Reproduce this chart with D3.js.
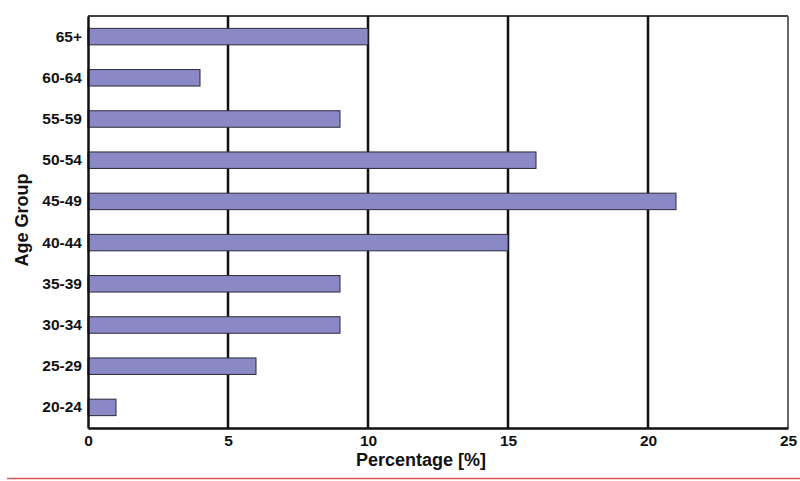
<!DOCTYPE html>
<html><head><meta charset="utf-8">
<script src="https://cdn.jsdelivr.net/npm/d3@7"></script>
<style>body{margin:0;background:#fff}svg{display:block}text{font-family:"Liberation Sans",Arial,Helvetica,sans-serif;font-weight:bold;fill:#111}</style>
</head><body><div id="chart"></div>
<script>
const categories = ["65+","60-64","55-59","50-54","45-49","40-44","35-39","30-34","25-29","20-24"];
const values = [10,4,9,16,21,15,9,9,6,1];
const xTicks = [0,5,10,15,20,25];
const xTitle = "Percentage [%]";
const yTitle = "Age Group";

const W=800,H=481;
const m={left:88,right:12,top:16,bottom:53};
const svg=d3.select("#chart").append("svg").attr("width",W).attr("height",H);
const x=d3.scaleLinear().domain([0,25]).range([m.left,W-m.right]);
const y=d3.scaleBand().domain(categories).range([m.top,H-m.bottom]).paddingInner(0.6).paddingOuter(0.3);

// frame top/right
svg.append("line").attr("x1",x(0)).attr("x2",x(25)).attr("y1",m.top).attr("y2",m.top).attr("stroke","#444").attr("stroke-width",2);
svg.append("line").attr("x1",x(25)).attr("x2",x(25)).attr("y1",m.top).attr("y2",H-m.bottom).attr("stroke","#666").attr("stroke-width",2);
// gridlines
svg.append("g").selectAll("line").data(xTicks.filter(d=>d>0&&d<25)).join("line")
 .attr("x1",d=>x(d)).attr("x2",d=>x(d)).attr("y1",m.top).attr("y2",H-m.bottom)
 .attr("stroke","#111").attr("stroke-width",2.5);
// bars
svg.append("g").selectAll("rect").data(categories).join("rect")
 .attr("x",x(0)).attr("y",d=>y(d)).attr("height",y.bandwidth())
 .attr("width",(d,i)=>x(values[i])-x(0))
 .attr("fill","#8b88c6").attr("stroke","#2a2a3a").attr("stroke-width",1);
// axes
const xa=svg.append("g").attr("transform",`translate(0,${H-m.bottom})`)
 .call(d3.axisBottom(x).tickValues(xTicks).tickSize(0).tickPadding(7));
xa.select(".domain").attr("stroke","#111").attr("stroke-width",2.5);
xa.selectAll("text").attr("font-size",15.5).attr("fill","#111");
const ya=svg.append("g").attr("transform",`translate(${m.left},0)`)
 .call(d3.axisLeft(y).tickSize(0).tickPadding(6));
ya.select(".domain").attr("stroke","#111").attr("stroke-width",2.5);
ya.selectAll("text").attr("font-size",15.5).attr("fill","#111");
svg.selectAll(".tick text").style("font-family",'"Liberation Sans",Arial,sans-serif').style("font-weight","bold");
// titles
svg.append("text").attr("x",421).attr("y",466).attr("text-anchor","middle").attr("font-size",18).text(xTitle);
svg.append("text").attr("transform","translate(28,220) rotate(-90)").attr("text-anchor","middle").attr("font-size",18).text(yTitle);
// red rule
svg.append("line").attr("x1",7).attr("x2",800).attr("y1",478.5).attr("y2",478.5).attr("stroke","#e05555").attr("stroke-width",1.5);
</script></body></html>
